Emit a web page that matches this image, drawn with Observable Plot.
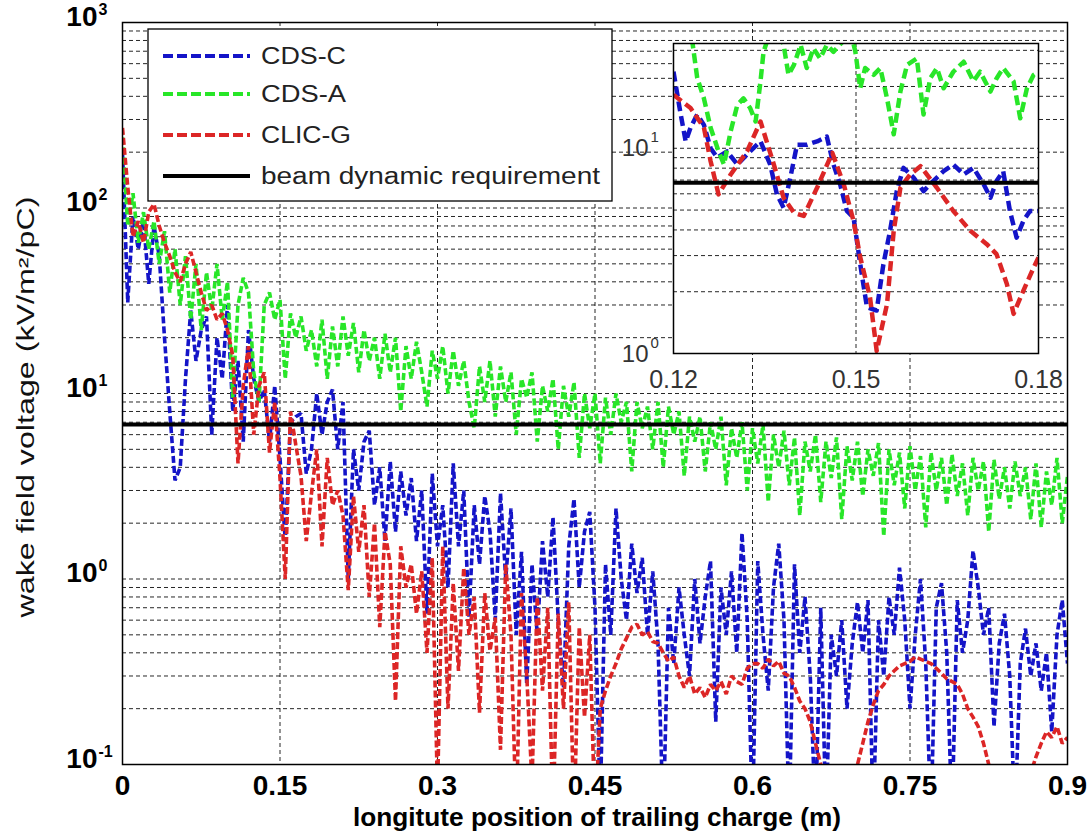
<!DOCTYPE html>
<html>
<head>
<meta charset="utf-8">
<script src="https://cdn.jsdelivr.net/npm/d3@7"></script>
<script src="https://cdn.jsdelivr.net/npm/@observablehq/plot@0.6"></script>
<style>
  html, body { margin: 0; padding: 0; background: #fff; }
  #wrap { position: relative; width: 1088px; height: 836px; overflow: hidden; background: #fff; }
  #wrap > svg { position: absolute; }
</style>
</head>
<body>
<div id="wrap"></div>
<script>
// ---------------- DATA ----------------
// main plot: samples every xStep metres from 0 to 0.9 m
const xStep = 0.005;
const cdsC = [200, 31, 90, 60, 85, 39, 80, 55, 20, 8, 3.4,
 4, 12, 28, 15, 22, 26, 6, 20, 12, 30,
 8, 15, 5.5, 22, 12, 9, 10.5, 5.5, 11, 4.5,
 1.6, 7, 7.5, 7.8, 3.7, 5, 10, 6, 9, 10.5,
 5, 9, 1.0, 5, 3, 5.5, 6.3, 2.5, 4, 1.6,
 4.3, 1.8, 3.8, 2.2, 3.5, 1.6, 3.0, 0.65, 3.7, 1.5,
 2.5, 0.9, 4.2, 1.5, 3.0, 0.62, 2.5, 1.2, 2.8, 1.8,
 0.6, 2.9, 1.0, 2.4, 0.5, 1.4, 0.27, 1.2, 0.5, 1.6,
 0.8, 2.15, 0.6, 0.26, 1.5, 2.7, 0.9, 1.8, 2.3, 0.7,
 0.06, 1.2, 0.5, 2.4, 1.0, 0.6, 1.55, 0.84, 1.3, 0.5,
 1.1, 0.45, 0.05, 0.7, 0.35, 0.9, 0.5, 0.3, 1.0, 0.45,
 0.8, 1.25, 0.17, 0.9, 0.5, 1.1, 0.4, 1.77, 0.6, 0.05,
 1.25, 0.5, 0.25, 0.9, 1.55, 0.6, 0.05, 1.2, 0.4, 0.8,
 0.3, 0.05, 0.7, 0.05, 0.5, 0.3, 0.6, 0.2, 0.45, 0.75,
 0.4, 0.77, 0.05, 0.6, 0.3, 0.8, 0.5, 1.15, 0.6, 0.2,
 0.5, 1.0, 0.35, 0.05, 0.7, 0.95, 0.4, 0.05, 0.77, 0.4,
 0.6, 1.42, 0.9, 0.5, 0.7, 0.16, 0.45, 0.65, 0.3, 0.05,
 0.35, 0.54, 0.3, 0.45, 0.25, 0.4, 0.15, 0.5, 0.77, 0.35];
const cdsA = [240, 80, 120, 65, 95, 60, 85, 50, 75, 35, 60,
 30, 55, 25, 50, 22, 45, 28, 50, 25, 40,
 9.5, 30, 42, 35, 13, 9, 30, 35, 25, 32,
 12, 27, 20, 26, 17, 22, 14, 25, 12, 23,
 14, 26, 16, 24, 13, 22, 15, 20, 12, 21,
 13, 20, 8, 18, 12, 19, 13, 8.5, 17, 12,
 18, 10, 17, 11, 15, 9, 6.5, 14, 9, 15,
 7.5, 14, 9, 13, 6, 12, 9.5, 13, 5.5, 11,
 8, 12, 5, 11, 7.5, 11.5, 4.5, 10, 6.5, 10,
 4.2, 9.5, 6, 10, 7, 9, 3.8, 9, 6.5, 8.5,
 5, 9, 4, 8.5, 6, 8, 3.6, 7.5, 5.5, 7.5,
 3.8, 7, 5, 7.5, 3.2, 6.5, 4.5, 7, 3, 6.5,
 4.2, 6.8, 2.6, 6, 4, 6.3, 3.2, 5.8, 2.2, 5.5,
 3.8, 6, 2.6, 5.5, 3.5, 5.8, 2.1, 5.2, 3.4, 5.5,
 2.8, 5, 3.6, 5.4, 1.7, 5, 3.2, 4.8, 2.4, 5.2,
 3, 4.6, 1.9, 4.8, 3, 4.5, 2.5, 4.7, 2.8, 4.2,
 2.2, 4.5, 3, 4.3, 1.8, 4.4, 2.7, 4, 2.4, 4.3,
 2.8, 4, 2.1, 4.2, 1.9, 3.8, 2.5, 4.5, 2, 3.6];
const clicG = [270, 130, 70, 85, 65, 95, 105, 80, 65, 55, 45,
 40, 50, 58, 45, 35, 28, 30, 25, 27, 22,
 16, 4.2, 11, 18, 6, 11, 13, 4.8, 9, 3.5,
 1.0, 8, 5.3, 3.6, 1.6, 2.9, 5, 1.5, 4.5, 2.5,
 3, 2.2, 0.87, 2.8, 1.4, 2.5, 0.8, 2.0, 0.55, 1.8,
 1.2, 0.22, 1.5, 0.9, 1.2, 0.65, 1.1, 0.4, 1.3, 0.07,
 1.5, 0.2, 0.95, 0.32, 1.15, 0.5, 0.8, 0.19, 0.84, 0.41,
 0.62, 0.12, 1.2, 0.5, 0.05, 0.84, 0.3, 0.08, 0.8, 0.25,
 0.7, 0.05, 0.65, 0.2, 0.75, 0.05, 0.55, 0.18, 0.5, 0.05,
 0.2, 0.25, 0.3, 0.35, 0.42, 0.48, 0.55, 0.57, 0.5, 0.52,
 0.46, 0.45, 0.4, 0.36, 0.38, 0.3, 0.26, 0.3, 0.24, 0.26,
 0.23, 0.27, 0.25, 0.28, 0.24, 0.3, 0.28, 0.27, 0.33, 0.35,
 0.35, 0.33, 0.37, 0.34, 0.36, 0.31, 0.3, 0.26, 0.22, 0.2,
 0.17, 0.13, 0.1, 0.06, 0.04, 0.03, 0.04, 0.05, 0.07, 0.1,
 0.13, 0.17, 0.21, 0.25, 0.27, 0.3, 0.32, 0.34, 0.35, 0.36,
 0.38, 0.37, 0.36, 0.35, 0.33, 0.31, 0.29, 0.28, 0.27, 0.24,
 0.2, 0.18, 0.16, 0.13, 0.1, 0.07, 0.05, 0.04, 0.04, 0.05,
 0.06, 0.07, 0.09, 0.11, 0.13, 0.15, 0.14, 0.16, 0.13, 0.14];
const requirement = 6.8;

// inset (0.12 - 0.18 m)
const insetBlueX = [0.1200, 0.1211, 0.1220, 0.1228, 0.1239, 0.1250, 0.1261, 0.1272, 0.1288, 0.1305, 0.1326, 0.1343, 0.1359, 0.1370, 0.1381, 0.1392, 0.1403, 0.1419, 0.1436, 0.1452, 0.1463, 0.1474, 0.1485, 0.1496, 0.1507, 0.1518, 0.1534, 0.1545, 0.1556, 0.1567, 0.1578, 0.1595, 0.1611, 0.1627, 0.1644, 0.1660, 0.1677, 0.1693, 0.1710, 0.1721, 0.1731, 0.1742, 0.1753, 0.1764, 0.1775, 0.1786, 0.1800];
const insetBlue = [23.6, 15.1, 10.8, 12.6, 14.6, 13, 10, 9, 9.67, 8.33, 9.67, 10.8, 8.33, 5.96, 5.13, 7.18, 10.4, 10.4, 10.8, 11.4, 8.33, 6.66, 4.95, 4.59, 2.72, 1.68, 1.62, 2.72, 3.96, 6.18, 8.03, 7.18, 6.18, 6.92, 7.73, 8.33, 7.45, 8.03, 6.66, 5.74, 6.92, 7.73, 4.95, 3.67, 4.42, 4.95, 4.95];
const insetGreenX = [0.1200, 0.1231, 0.1239, 0.1250, 0.1261, 0.1274, 0.1283, 0.1294, 0.1305, 0.1315, 0.1326, 0.1335, 0.1343, 0.1348, 0.1359, 0.1373, 0.1381, 0.1389, 0.1398, 0.1409, 0.1419, 0.1430, 0.1441, 0.1452, 0.1463, 0.1477, 0.1491, 0.1499, 0.1507, 0.1515, 0.1529, 0.1540, 0.1551, 0.1562, 0.1573, 0.1584, 0.1600, 0.1611, 0.1622, 0.1633, 0.1644, 0.1660, 0.1677, 0.1693, 0.1704, 0.1721, 0.1731, 0.1742, 0.1759, 0.1770, 0.1781, 0.1792, 0.1800];
const insetGreen = [45, 33, 22, 17.5, 12.6, 9.67, 8.33, 12.1, 16.3, 17.5, 15.7, 13.5, 21.2, 29.5, 37, 37, 31.9, 22.8, 25.5, 31.9, 24.6, 30.7, 27.4, 31.9, 29.5, 32.8, 37, 29.5, 19.6, 24.6, 22.8, 24.6, 17.5, 11.7, 18.9, 25.5, 27.4, 14.6, 21.9, 24.6, 19.6, 23.6, 26.4, 21.2, 23.6, 18.9, 21.9, 24.6, 21.2, 14, 19.6, 22.8, 23.6];
const insetRedX = [0.1200, 0.1228, 0.1250, 0.1261, 0.1274, 0.1294, 0.1321, 0.1343, 0.1365, 0.1381, 0.1398, 0.1414, 0.1436, 0.1461, 0.1480, 0.1496, 0.1507, 0.1523, 0.1534, 0.1551, 0.1562, 0.1573, 0.1589, 0.1606, 0.1633, 0.1660, 0.1688, 0.1715, 0.1731, 0.1748, 0.1759, 0.1775, 0.1792, 0.1800];
const insetRed = [18.2, 15.7, 12.6, 8.65, 5.96, 7.45, 9.67, 13.5, 8.33, 5.74, 4.85, 4.68, 6.42, 9.5, 6.66, 4.42, 2.94, 1.88, 1.03, 1.74, 3.96, 6.42, 7.45, 8.18, 6.42, 4.95, 3.96, 3.41, 3.05, 2.18, 1.56, 2.02, 2.62, 2.94];

// ticks and labels
const xTicks = [0, 0.15, 0.3, 0.45, 0.6, 0.75, 0.9];
const xTickLabels = ["0", "0.15", "0.3", "0.45", "0.6", "0.75", "0.9"];
const yTicks = [0.1, 1, 10, 100, 1000];
const yTickExps = ["-1", "0", "1", "2", "3"];
const insetXTicks = [0.12, 0.15, 0.18];
const insetXTickLabels = ["0.12", "0.15", "0.18"];
const insetYTicks = [1, 10];
const insetYExps = ["0", "1"];
const seriesNames = ["CDS-C", "CDS-A", "CLIC-G", "beam dynamic requirement"];
const seriesColors = ["#1414c8", "#28e628", "#dc2626", "#000000"];
const xTitle = "longitute position of trailing charge (m)";
const yTitle = "wake field voltage (kV/m\u00B2/pC)";

// ---------------- DRAW ----------------
const FONT = "'Liberation Sans', Arial, Helvetica, sans-serif";
const wrap = document.getElementById("wrap");
const rowsOf = (vals) => vals.map((v, i) => ({x: i * xStep, v}));
const pairRows = (xs, vs) => xs.map((x, i) => ({x, v: vs[i]}));
const gridStyle = {stroke: "black", strokeOpacity: 0.85, strokeWidth: 1, strokeDasharray: "4,3"};

const mainSeries = [cdsC, cdsA, clicG];
const main = Plot.plot({
  width: 1088, height: 836,
  marginLeft: 122, marginRight: 21, marginTop: 22, marginBottom: 72,
  style: {background: "transparent", fontFamily: FONT, color: "black", overflow: "visible"},
  x: {domain: [0, 0.9], axis: null},
  y: {type: "log", domain: [0.1, 1000], axis: null},
  marks: [
    Plot.gridY({ticks: 40, ...gridStyle}),
    Plot.gridX(xTicks, gridStyle),
    ...mainSeries.map((vals, k) => Plot.lineY(rowsOf(vals), {
      x: "x", y: "v", stroke: seriesColors[k], strokeWidth: 3.6,
      strokeDasharray: "7,3", strokeLinecap: "butt", strokeLinejoin: "miter", clip: true
    })),
    Plot.ruleY([requirement], {stroke: seriesColors[3], strokeWidth: 4}),
    Plot.frame({stroke: "black", strokeWidth: 1.5}),
    Plot.text(xTicks, {x: d => d, text: (d, i) => xTickLabels[i], frameAnchor: "bottom",
      lineAnchor: "bottom", dy: 30, fontSize: 28, fontWeight: "bold"}),
    Plot.text(yTicks, {y: d => d, text: () => "10", frameAnchor: "left", textAnchor: "end",
      lineAnchor: "bottom", dx: -25, dy: 3, fontSize: 28, fontWeight: "bold"}),
    Plot.text(yTicks, {y: d => d, text: (d, i) => yTickExps[i], frameAnchor: "left", textAnchor: "start",
      lineAnchor: "bottom", dx: -24, dy: -8, fontSize: 16, fontWeight: "bold"})
  ]
});
main.style.left = "0px"; main.style.top = "0px";
wrap.appendChild(main);

const insetSeries = [[insetBlueX, insetBlue], [insetGreenX, insetGreen], [insetRedX, insetRed]];
const inset = Plot.plot({
  width: 425, height: 357,
  marginLeft: 55, marginRight: 5, marginTop: 5, marginBottom: 42,
  style: {background: "transparent", fontFamily: FONT, color: "black", overflow: "visible"},
  x: {domain: [0.12, 0.18], axis: null},
  y: {type: "log", domain: [1, 32.4], axis: null},
  marks: [
    Plot.frame({fill: "white", stroke: "none"}),
    Plot.gridY({ticks: 20, ...gridStyle}),
    Plot.gridX([0.15], gridStyle),
    ...insetSeries.map(([xs, vs], k) => Plot.line(pairRows(xs, vs), {
      x: "x", y: "v", stroke: seriesColors[k], strokeWidth: 4.5,
      strokeDasharray: "10,5", strokeLinecap: "butt", clip: true
    })),
    Plot.ruleY([requirement], {stroke: seriesColors[3], strokeWidth: 4}),
    Plot.frame({stroke: "black", strokeWidth: 1.5}),
    Plot.text(insetXTicks, {x: d => d, text: (d, i) => insetXTickLabels[i], frameAnchor: "bottom",
      lineAnchor: "bottom", dy: 34, fontSize: 25, fill: "#333"}),
    Plot.text(insetYTicks, {y: d => d, text: () => "10", frameAnchor: "left", textAnchor: "end",
      lineAnchor: "bottom", dx: -25, dy: 8, fontSize: 24, fill: "#333"}),
    Plot.text(insetYTicks, {y: d => d, text: (d, i) => insetYExps[i], frameAnchor: "left", textAnchor: "start",
      lineAnchor: "bottom", dx: -23, dy: -6, fontSize: 15, fill: "#333"})
  ]
});
inset.style.left = "618px"; inset.style.top = "38px";
wrap.appendChild(inset);

// overlay: legend and axis titles
const ov = d3.create("svg").attr("width", 1088).attr("height", 836)
  .style("left", "0px").style("top", "0px").style("font-family", FONT);
ov.append("rect").attr("x", 148).attr("y", 29).attr("width", 464).attr("height", 172)
  .attr("fill", "white").attr("stroke", "black").attr("stroke-width", 1.3);
const legendY = [56, 94, 135, 176];
const legendW = [85, 85, 90, 339];
seriesNames.forEach((name, i) => {
  ov.append("line").attr("x1", 163).attr("x2", 250).attr("y1", legendY[i]).attr("y2", legendY[i])
    .attr("stroke", seriesColors[i]).attr("stroke-width", 4)
    .attr("stroke-dasharray", i < 3 ? "10,4" : null);
  ov.append("text").attr("x", 261).attr("y", legendY[i] + 8).attr("font-size", 23)
    .attr("fill", "#222").attr("textLength", legendW[i]).attr("lengthAdjust", "spacingAndGlyphs")
    .text(name);
});
ov.append("text").attr("x", 597).attr("y", 826).attr("text-anchor", "middle")
  .attr("font-size", 25).attr("font-weight", "bold")
  .attr("textLength", 488).attr("lengthAdjust", "spacingAndGlyphs").text(xTitle);
ov.append("text").attr("transform", "translate(34,407) rotate(-90)").attr("text-anchor", "middle")
  .attr("font-size", 23).attr("fill", "#111")
  .attr("textLength", 421).attr("lengthAdjust", "spacingAndGlyphs").text(yTitle);
wrap.appendChild(ov.node());
</script>
</body>
</html>
